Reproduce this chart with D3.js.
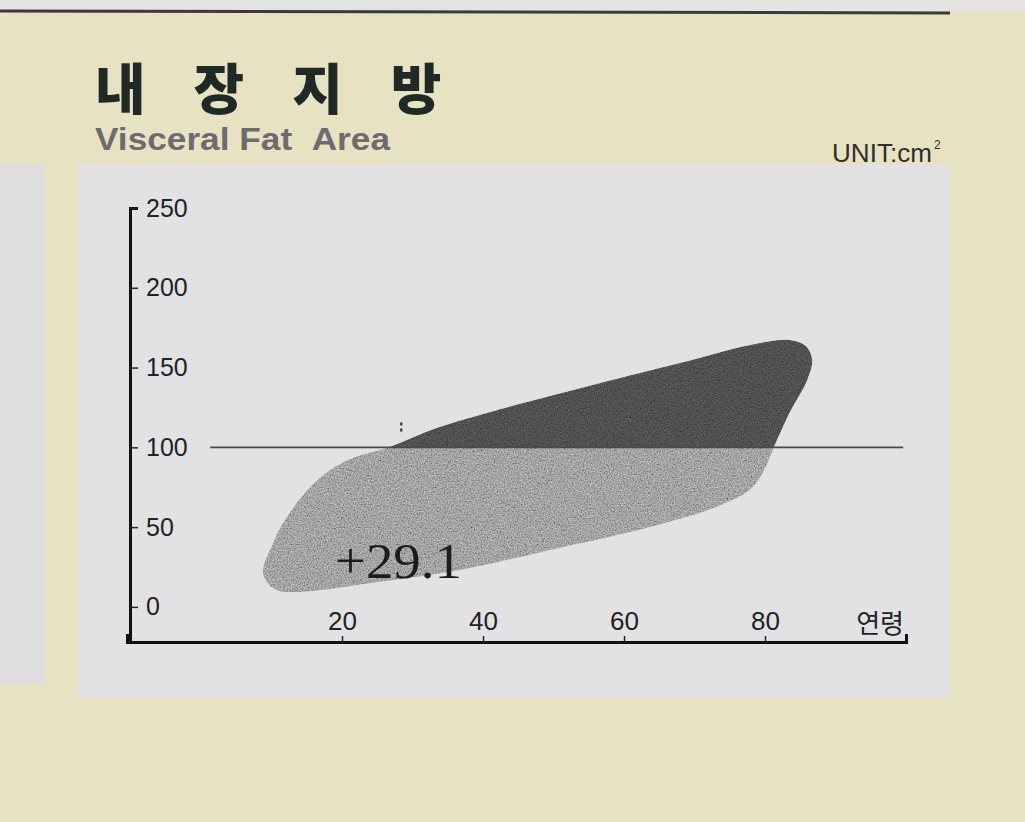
<!DOCTYPE html>
<html>
<head>
<meta charset="utf-8">
<script src="https://cdn.jsdelivr.net/npm/d3@7/dist/d3.min.js"></script>
<style>
  html, body { margin: 0; padding: 0; background: #e6e2c2; }
  svg { display: block; }
</style>
</head>
<body>
<script>
// ---------- data ----------
const titleKo = "내장지방";
const titleEn = "Visceral Fat\u00a0\u00a0Area";
const unitText = "UNIT:cm";
const xAxisLabel = "연령";
const xTicks = [20, 40, 60, 80];
const yTicks = [0, 50, 100, 150, 200, 250];
const refValue = 100;                 // horizontal reference line
const refAgeSpan = [1.3, 99.6];
const annotationText = "+29.1";
const annotationAge = 19;
const annotationValue = 18;
const markerAge = 28.4;
const markerValues = [110, 117];
// outer contour of the visceral-fat distribution band (age, cm²)
const contourAge   = [8.8, 10.1, 11.9, 16.5, 21.1, 26.8, 33.5, 41.0, 56.6, 67.9, 77.9, 83.5, 85.8, 86.7, 86.0, 83.5, 81.1, 79.9, 78.0, 73.6, 63.7, 50.9, 36.7, 25.4, 14.0, 10.5];
const contourValue = [21.3, 38.8, 54.5, 79.5, 92.5, 100.3, 112.2, 122.2, 140.4, 152.9, 164.2, 167.3, 163.5, 154.8, 142.2, 121.6, 98.4, 86.0, 74.0, 63.5, 50.1, 37.0, 23.2, 15.7, 9.4, 11.0];

// ---------- layout ----------
const W = 1025, H = 822;
const svg = d3.select("body").append("svg").attr("width", W).attr("height", H);

const defs = svg.append("defs");
const grain = defs.append("filter").attr("id", "grain").attr("x", 0).attr("y", 0).attr("width", 1).attr("height", 1);
grain.append("feTurbulence").attr("type", "fractalNoise").attr("baseFrequency", 0.7).attr("numOctaves", 2).attr("seed", 4).attr("result", "noise");
grain.append("feColorMatrix").attr("in", "noise").attr("type", "matrix")
  .attr("values", "0.5 0.5 0.5 0 -0.25  0.5 0.5 0.5 0 -0.25  0.5 0.5 0.5 0 -0.25  0 0 0 0 1").attr("result", "gray");
grain.append("feBlend").attr("in", "gray").attr("in2", "SourceGraphic").attr("mode", "overlay").attr("result", "bl");
grain.append("feComposite").attr("in", "bl").attr("in2", "SourceGraphic").attr("operator", "in");

// backgrounds
svg.append("rect").attr("x", 0).attr("y", 0).attr("width", W).attr("height", H).attr("fill", "#e6e2c2");
svg.append("rect").attr("x", 0).attr("y", 0).attr("width", W).attr("height", 11).attr("fill", "#e4e4e2");
svg.append("line").attr("x1", 0).attr("x2", 950).attr("y1", 11).attr("y2", 13).attr("stroke", "#3a3a3a").attr("stroke-width", 3);
svg.append("rect").attr("x", 0).attr("y", 165).attr("width", 45).attr("height", 518).attr("fill", "#dedee1");
svg.append("rect").attr("x", 78).attr("y", 165).attr("width", 872).attr("height", 532).attr("fill", "#e2e2e5");

// titles
svg.append("text").attr("x", 95).attr("y", 109)
  .attr("font-family", "'Noto Sans CJK KR', sans-serif").attr("font-weight", 900)
  .attr("font-size", 55).attr("letter-spacing", "48px").attr("fill", "#1f2925")
  .text(titleKo);
svg.append("text").attr("x", 95).attr("y", 150)
  .attr("font-family", "'Liberation Sans', Arial, sans-serif").attr("font-weight", 700)
  .attr("font-size", 31).attr("fill", "#6c6c6e")
  .attr("textLength", 295).attr("lengthAdjust", "spacingAndGlyphs")
  .text(titleEn);
svg.append("text").attr("x", 832).attr("y", 162)
  .attr("font-family", "'Liberation Sans', Arial, sans-serif")
  .attr("font-size", 26).attr("fill", "#2e2e2e")
  .attr("textLength", 100).attr("lengthAdjust", "spacingAndGlyphs")
  .text(unitText);
svg.append("text").attr("x", 934).attr("y", 149)
  .attr("font-family", "'Liberation Sans', Arial, sans-serif")
  .attr("font-size", 12).attr("fill", "#2e2e2e").text("2");

// scales
const x = d3.scaleLinear().domain([-10.5, 100]).range([127, 906]);
const y = d3.scaleLinear().domain([-22, 250]).range([642, 208]);

// shape
const pts = contourAge.map((a, i) => [a, contourValue[i]]);
const shape = d3.line().x(d => x(d[0])).y(d => y(d[1])).curve(d3.curveCatmullRomClosed.alpha(0.5));

defs.append("clipPath").attr("id", "above").append("rect")
  .attr("x", 0).attr("y", 0).attr("width", W).attr("height", y(refValue));
defs.append("clipPath").attr("id", "below").append("rect")
  .attr("x", 0).attr("y", y(refValue)).attr("width", W).attr("height", H - y(refValue));

svg.append("path").attr("d", shape(pts)).attr("fill", "#a4a4a5")
  .attr("clip-path", "url(#below)").attr("filter", "url(#grain)");
svg.append("path").attr("d", shape(pts)).attr("fill", "#515152")
  .attr("clip-path", "url(#above)").attr("filter", "url(#grain)");

// reference line
svg.append("line")
  .attr("x1", x(refAgeSpan[0])).attr("x2", x(refAgeSpan[1]))
  .attr("y1", y(refValue)).attr("y2", y(refValue))
  .attr("stroke", "#4a4a4a").attr("stroke-width", 1.6);

// small dotted marker
svg.append("line")
  .attr("x1", x(markerAge)).attr("x2", x(markerAge))
  .attr("y1", y(markerValues[0])).attr("y2", y(markerValues[1]))
  .attr("stroke", "#333").attr("stroke-width", 2.2).attr("stroke-dasharray", "3,3");

// annotation
svg.append("text").attr("x", x(annotationAge)).attr("y", y(annotationValue))
  .attr("font-family", "'Liberation Serif', 'Times New Roman', serif")
  .attr("font-size", 50).attr("fill", "#1c1c1c")
  .attr("textLength", 127).attr("lengthAdjust", "spacingAndGlyphs")
  .text(annotationText);

// axes
const yAxis = d3.axisRight(y).tickValues(yTicks).tickSize(8).tickSizeOuter(8).tickPadding(8);
const gy = svg.append("g").attr("transform", `translate(${x(-10.5) + 3},0)`).call(yAxis);
gy.select(".domain").attr("stroke", "#111").attr("stroke-width", 3);
gy.selectAll(".tick line").attr("stroke", "#222").attr("stroke-width", 1.5);
gy.selectAll(".tick text").attr("font-family", "'Liberation Sans', Arial, sans-serif")
  .attr("font-size", 25).attr("fill", "#222");

const xAxis = d3.axisTop(x).tickValues(xTicks).tickSize(6).tickSizeOuter(8).tickPadding(6);
const gx = svg.append("g").attr("transform", `translate(0,${y(-22)})`).call(xAxis);
gx.select(".domain").attr("stroke", "#111").attr("stroke-width", 3);
gx.selectAll(".tick line").attr("stroke", "#222").attr("stroke-width", 1.5);
gx.selectAll(".tick text").attr("font-family", "'Liberation Sans', Arial, sans-serif")
  .attr("font-size", 26).attr("fill", "#222");

svg.append("text").attr("x", x(100) - 2).attr("y", y(-22) - 9).attr("text-anchor", "end")
  .attr("font-family", "'Noto Sans CJK KR', sans-serif")
  .attr("font-size", 26).attr("fill", "#222").text(xAxisLabel);
</script>
</body>
</html>
